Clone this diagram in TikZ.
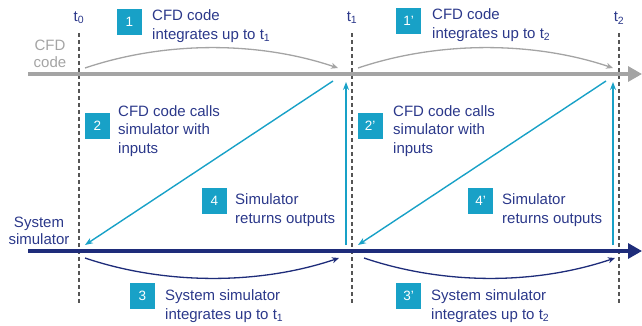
\documentclass[tikz,border=0pt]{standalone}
\usepackage{fontspec}
\setmainfont{Liberation Sans}
\usetikzlibrary{arrows.meta}

\definecolor{txtnavy}{RGB}{43,56,138}
\definecolor{linenavy}{RGB}{30,44,122}
\definecolor{boxcyan}{RGB}{24,161,199}
\definecolor{cfdgray}{RGB}{164,164,164}
\definecolor{dashgray}{RGB}{85,85,85}

\tikzset{
  timeline/.style={color=dashgray, line width=1.3pt, dash pattern=on 4pt off 3pt},
  axis/.style={line width=3.2pt, -{Triangle[length=14pt,width=15pt]}},
  cfdarc/.style={color=cfdgray, line width=1.3pt, -{Stealth[length=7pt,width=6pt]}},
  simarc/.style={color=linenavy, line width=1.3pt, -{Stealth[length=7pt,width=6pt]}},
  call/.style={color=boxcyan, line width=1.4pt, -{Stealth[length=8pt,width=6pt]}},
  numbox/.style={fill=boxcyan, text=white, minimum width=25pt, minimum height=26pt,
    inner sep=0pt, font=\fontsize{13.5}{13.5}\selectfont},
  steptext/.style={anchor=west, align=left, text=txtnavy, inner sep=0pt,
    font=\fontsize{15}{18.5}\selectfont},
  axlabel/.style={align=center, inner sep=0pt, font=\fontsize{15}{16.5}\selectfont},
  tlabel/.style={text=txtnavy, inner sep=0pt, font=\fontsize{15}{15}\selectfont}
}

\begin{document}
\begin{tikzpicture}[x=1pt,y=-1pt]
  \useasboundingbox (0,0) rectangle (642,325);

  % time marks
  \foreach \n/\x in {0/79,1/352,2/619} {
    \coordinate (tt\n) at (\x,33);
    \coordinate (tb\n) at (\x,304);
    \draw[timeline] (tt\n) -- (tb\n);
    \node[tlabel] (t\n) at (\x,18) {t\textsubscript{\n}};
  }

  % the two time axes
  \coordinate (cfdA) at (28,74);
  \coordinate (cfdB) at (642,74);
  \coordinate (simA) at (28,251);
  \coordinate (simB) at (642,251);
  \draw[axis, color=cfdgray] (cfdA) -- (cfdB);
  \draw[axis, color=linenavy] (simA) -- (simB);
  \node[axlabel, text=cfdgray] (cfd) at (50,54) {CFD\\code};
  \node[axlabel, text=txtnavy] (sim) at (39,231) {System\\simulator};

  % integration steps
  \coordinate (c0) at (85,68);
  \coordinate (c1) at (338,68);
  \coordinate (c1b) at (358,68);
  \coordinate (c2) at (613,68);
  \draw[cfdarc] (c0) .. controls +(80,-27) and +(-80,-27) .. (c1);
  \draw[cfdarc] (c1b) .. controls +(80,-27) and +(-80,-27) .. (c2);

  \coordinate (s0) at (85,258);
  \coordinate (s1) at (339,258);
  \coordinate (s1b) at (364,258);
  \coordinate (s2) at (615,258);
  \draw[simarc] (s0) .. controls +(80,27) and +(-80,27) .. (s1);
  \draw[simarc] (s1b) .. controls +(80,27) and +(-80,27) .. (s2);

  % calls and returns
  \coordinate (k1) at (333,81);
  \coordinate (k0) at (85,245);
  \coordinate (r1a) at (346,245);
  \coordinate (r1b) at (346,82);
  \draw[call] (k1) -- (k0);
  \draw[call] (r1a) -- (r1b);

  \coordinate (k2) at (606,81);
  \coordinate (k1b) at (358,245);
  \coordinate (r2a) at (613,245);
  \coordinate (r2b) at (613,82);
  \draw[call] (k2) -- (k1b);
  \draw[call] (r2a) -- (r2b);

  % numbered steps
  \node[numbox] (n1) at (129.5,22) {1};
  \node[steptext] (d1) at (152,26) {CFD code\\integrates up to t\textsubscript{1}};
  \node[numbox] (n1p) at (408.5,21) {1'};
  \node[steptext] (d1p) at (432,25) {CFD code\\integrates up to t\textsubscript{2}};

  \node[numbox] (n2) at (97.5,125.5) {2};
  \node[steptext] (d2) at (118,131) {CFD code calls\\simulator with\\inputs};
  \node[numbox] (n2p) at (370,126) {2'};
  \node[steptext] (d2p) at (393,131) {CFD code calls\\simulator with\\inputs};

  \node[numbox] (n4) at (214.5,201) {4};
  \node[steptext] (d4) at (235,210) {Simulator\\returns outputs};
  \node[numbox] (n4p) at (480.5,201) {4'};
  \node[steptext] (d4p) at (502,210) {Simulator\\returns outputs};

  \node[numbox] (n3) at (142.5,296) {3};
  \node[steptext] (d3) at (165,306) {System simulator\\integrates up to t\textsubscript{1}};
  \node[numbox] (n3p) at (408.5,296) {3'};
  \node[steptext] (d3p) at (431,306) {System simulator\\integrates up to t\textsubscript{2}};
\end{tikzpicture}
\end{document}
